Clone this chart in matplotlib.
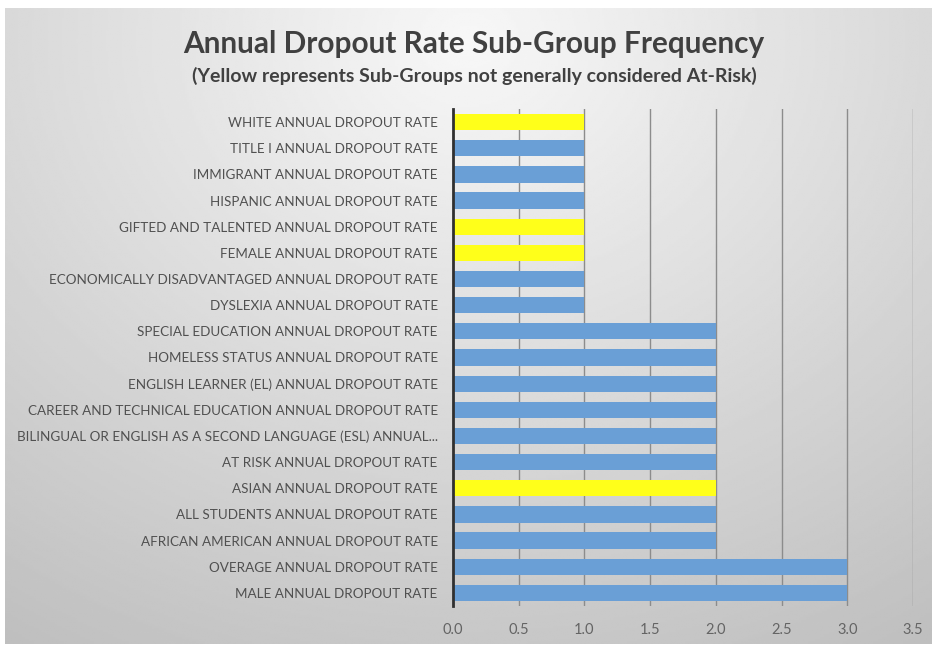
import numpy as np
import matplotlib
matplotlib.use("Agg")
import matplotlib.pyplot as plt

# Sub-groups listed top to bottom as in the chart
groups = [
    "WHITE ANNUAL DROPOUT RATE",
    "TITLE I ANNUAL DROPOUT RATE",
    "IMMIGRANT ANNUAL DROPOUT RATE",
    "HISPANIC ANNUAL DROPOUT RATE",
    "GIFTED AND TALENTED ANNUAL DROPOUT RATE",
    "FEMALE ANNUAL DROPOUT RATE",
    "ECONOMICALLY DISADVANTAGED ANNUAL DROPOUT RATE",
    "DYSLEXIA ANNUAL DROPOUT RATE",
    "SPECIAL EDUCATION ANNUAL DROPOUT RATE",
    "HOMELESS STATUS ANNUAL DROPOUT RATE",
    "ENGLISH LEARNER (EL) ANNUAL DROPOUT RATE",
    "CAREER AND TECHNICAL EDUCATION ANNUAL DROPOUT RATE",
    "BILINGUAL OR ENGLISH AS A SECOND LANGUAGE (ESL) ANNUAL...",
    "AT RISK ANNUAL DROPOUT RATE",
    "ASIAN ANNUAL DROPOUT RATE",
    "ALL STUDENTS ANNUAL DROPOUT RATE",
    "AFRICAN AMERICAN ANNUAL DROPOUT RATE",
    "OVERAGE ANNUAL DROPOUT RATE",
    "MALE ANNUAL DROPOUT RATE",
]
frequency = [1, 1, 1, 1, 1, 1, 1, 1, 2, 2, 2, 2, 2, 2, 2, 2, 2, 3, 3]
not_at_risk = ["WHITE ANNUAL DROPOUT RATE", "GIFTED AND TALENTED ANNUAL DROPOUT RATE",
               "FEMALE ANNUAL DROPOUT RATE", "ASIAN ANNUAL DROPOUT RATE"]
xticks = [0.0, 0.5, 1.0, 1.5, 2.0, 2.5, 3.0, 3.5]

BLUE = "#6a9fd6"
YELLOW = "#ffff1a"
plt.rcParams["font.family"] = ["Lato", "DejaVu Sans"]

fig = plt.figure(figsize=(9.32, 6.45), dpi=100)

# gray gradient panel behind everything
bg = fig.add_axes([5 / 932, 1 / 645, 927 / 932, 636 / 645], zorder=-10)
yy, xx = np.mgrid[0:1:300j, 0:1:400j]
dist = np.sqrt(((xx - 0.5) * 1.1) ** 2 + ((yy - 0.05) * 0.9) ** 2)
shade = 0.97 - 0.22 * np.clip(dist, 0, 1.2)
bg.imshow(shade, cmap="gray", vmin=0, vmax=1, aspect="auto", extent=[0, 1, 1, 0])
bg.axis("off")

ax = fig.add_axes([453 / 932, 1 - 606 / 645, 460 / 932, 497 / 645])
ax.set_facecolor("none")
pos = np.arange(len(groups))
colors = [YELLOW if g in not_at_risk else BLUE for g in groups]
ax.barh(pos, frequency, height=0.62, color=colors, zorder=3)
ax.set_ylim(len(groups) - 0.5, -0.5)
ax.set_xlim(0, 3.5)
ax.set_yticks(pos)
ax.set_yticklabels(groups, fontsize=9.7, color="#505050")
ax.set_xticks(xticks)
ax.set_xticklabels([f"{t:.1f}" for t in xticks], fontsize=10.5, color="#646464")
ax.tick_params(length=0)
ax.tick_params(axis="x", pad=12)
ax.tick_params(axis="y", pad=11)
for t in xticks[1:]:
    ax.axvline(t, color="#8c8c8c", lw=1.0, zorder=1)
for s in ["top", "right", "bottom"]:
    ax.spines[s].set_visible(False)
ax.spines["left"].set_color("#303030")
ax.spines["left"].set_linewidth(2)
ax.spines["left"].set_zorder(4)

fig.text(474 / 932, 1 - 44 / 645, "Annual Dropout Rate Sub-Group Frequency",
         ha="center", va="center", fontsize=21.4, fontweight="bold", color="#404040")
fig.text(474 / 932, 1 - 76 / 645, "(Yellow represents Sub-Groups not generally considered At-Risk)",
         ha="center", va="center", fontsize=14, fontweight="bold", color="#404040")

fig.savefig("out.png", dpi=100)
